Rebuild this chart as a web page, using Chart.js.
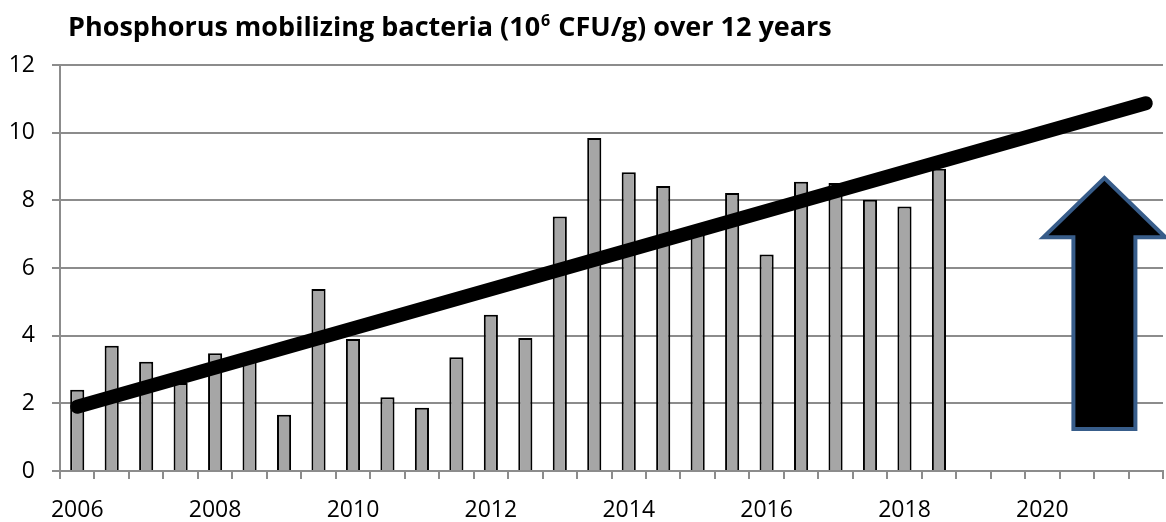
<!DOCTYPE html>
<html>
<head>
<meta charset="utf-8">
<title>Phosphorus mobilizing bacteria</title>
<script src="https://cdn.jsdelivr.net/npm/chart.js@4"></script>
<style>
  html, body { margin: 0; padding: 0; background: #fff; }
  #wrap { width: 1166px; height: 522px; position: relative; }
</style>
</head>
<body>
<div id="wrap"><canvas id="myChart"></canvas></div>
<script>
// half-year slots along the x axis
var categories = [
  "2006", "2006.5", "2007", "2007.5", "2008", "2008.5", "2009", "2009.5",
  "2010", "2010.5", "2011", "2011.5", "2012", "2012.5", "2013", "2013.5",
  "2014", "2014.5", "2015", "2015.5", "2016", "2016.5", "2017", "2017.5",
  "2018", "2018.5", "2019", "2019.5", "2020", "2020.5", "2021", "2021.5",
];

var tickLabels = ["2006", "2008", "2010", "2012", "2014", "2016", "2018", "2020"];

// bacteria counts, 10^6 CFU/g
var bacteriaValues = [
  2.40, 3.70, 3.23, 2.60, 3.48, 3.30, 1.66, 5.38, 3.90, 2.18, 1.87, 3.36, 4.62,
  3.93, 7.52, 9.84, 8.83, 8.42, 7.00, 8.22, 6.40, 8.55, 8.51, 8.02, 7.82, 8.93,
];

// trend line end points
var trendStart = { x: "2006", y: 1.9 };
var trendEnd = { x: "2021.5", y: 10.87 };

// up arrow, in axis units
var arrowSlot = 29.8;
var arrowBottom = 1.24;
var arrowNeck = 6.91;
var arrowTip = 8.66;

var titleParts = ["Phosphorus mobilizing bacteria (10", "6", " CFU/g) over 12 years"];

var gridColor = "#8c8c8c";
var fontFamily = "'Open Sans', Lato, sans-serif";

var titlePlugin = {
  id: "titleSup",
  afterDraw: function (chart) {
    var ctx = chart.ctx;
    ctx.save();
    ctx.fillStyle = "#000";
    ctx.textBaseline = "alphabetic";
    var x = 68;
    var y = 36;
    ctx.font = "bold 27px " + fontFamily;
    ctx.fillText(titleParts[0], x, y);
    x += ctx.measureText(titleParts[0]).width + 1;
    ctx.font = "bold 16px " + fontFamily;
    ctx.fillText(titleParts[1], x, y - 10);
    x += ctx.measureText(titleParts[1]).width + 1;
    ctx.font = "bold 27px " + fontFamily;
    ctx.fillText(titleParts[2], x, y);
    ctx.restore();
  },
};

var arrowPlugin = {
  id: "upArrow",
  afterDatasetsDraw: function (chart) {
    var xs = chart.scales.x;
    var ys = chart.scales.y;
    var cx = xs.getPixelForValue(arrowSlot);
    var yb = ys.getPixelForValue(arrowBottom);
    var yn = ys.getPixelForValue(arrowNeck);
    var yt = ys.getPixelForValue(arrowTip);
    var shaft = 31;
    var head = 61;
    var ctx = chart.ctx;
    ctx.save();
    ctx.beginPath();
    ctx.moveTo(cx, yt);
    ctx.lineTo(cx + head, yn);
    ctx.lineTo(cx + shaft, yn);
    ctx.lineTo(cx + shaft, yb);
    ctx.lineTo(cx - shaft, yb);
    ctx.lineTo(cx - shaft, yn);
    ctx.lineTo(cx - head, yn);
    ctx.closePath();
    ctx.fillStyle = "#000";
    ctx.fill();
    ctx.lineWidth = 4;
    ctx.lineJoin = "miter";
    ctx.strokeStyle = "#385d8a";
    ctx.stroke();
    ctx.restore();
  },
};

window.onload = function () {
  var ctx = document.getElementById("myChart").getContext("2d");
  var myChart = new Chart(ctx, {
    data: {
      labels: categories,
      datasets: [
        {
          type: "line",
          label: "Trend",
          data: [trendStart, trendEnd],
          borderColor: "#000",
          borderWidth: 14,
          borderCapStyle: "round",
          pointRadius: 0,
          order: 0,
        },
        {
          type: "bar",
          label: "Bacteria",
          data: bacteriaValues,
          backgroundColor: "#a6a6a6",
          borderColor: "#000",
          borderWidth: 2,
          categoryPercentage: 1,
          barPercentage: 0.41,
          order: 1,
        },
      ],
    },
    options: {
      responsive: true,
      maintainAspectRatio: false,
      animation: false,
      layout: { padding: { top: 65, right: 3, left: 0, bottom: 0 } },
      plugins: {
        legend: { display: false },
        tooltip: { enabled: false },
      },
      scales: {
        x: {
          offset: true,
          afterFit: function (scale) {
            scale.paddingLeft = 0;
            scale.paddingRight = 0;
            scale.height = 51;
          },
          grid: {
            offset: true,
            drawOnChartArea: false,
            drawTicks: true,
            tickLength: 8,
            color: gridColor,
            lineWidth: 2,
          },
          border: { display: true, color: gridColor, width: 2 },
          ticks: {
            autoSkip: false,
            maxRotation: 0,
            padding: 18,
            color: "#000",
            font: { family: fontFamily, size: 23 },
            callback: function (value) {
              var label = this.getLabelForValue(value);
              return tickLabels.indexOf(label) >= 0 ? label : "";
            },
          },
        },
        y: {
          min: 0,
          max: 12,
          afterFit: function (scale) {
            scale.width = 60;
          },
          grid: { color: gridColor, lineWidth: 2, tickLength: 8 },
          border: { display: true, color: gridColor, width: 2 },
          ticks: {
            stepSize: 2,
            padding: 17,
            color: "#000",
            font: { family: fontFamily, size: 23 },
          },
        },
      },
    },
    plugins: [titlePlugin, arrowPlugin],
  });
};
</script>
</body>
</html>
